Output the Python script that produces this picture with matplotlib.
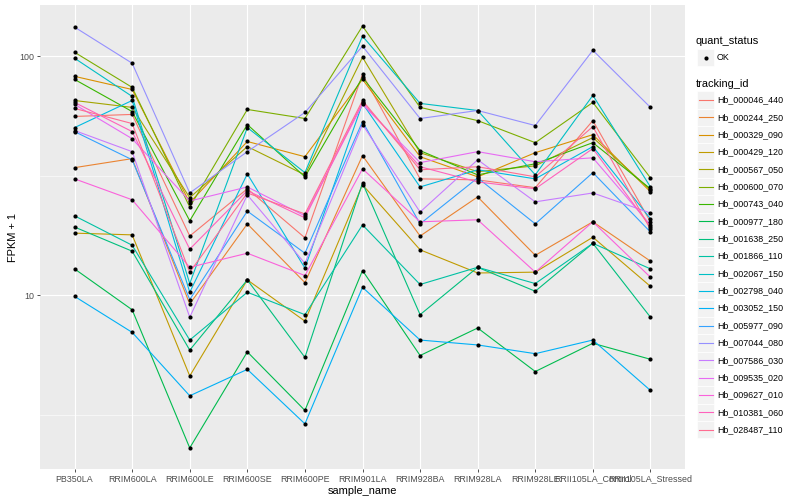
import numpy as np
import matplotlib
matplotlib.use("Agg")
import matplotlib.pyplot as plt
from matplotlib.patches import Rectangle
from matplotlib.lines import Line2D

plt.rcParams['font.family'] = ['Liberation Sans', 'DejaVu Sans']

samples = ["PB350LA", "RRIM600LA", "RRIM600LE", "RRIM600SE", "RRIM600PE", "RRIM901LA",
           "RRIM928BA", "RRIM928LA", "RRIM928LE", "RRII105LA_Control", "RRII105LA_Stressed"]

tracking_ids = ["Hb_000046_440", "Hb_000244_250", "Hb_000329_090", "Hb_000429_120",
                "Hb_000567_050", "Hb_000600_070", "Hb_000743_040", "Hb_000977_180",
                "Hb_001638_250", "Hb_001866_110", "Hb_002067_150", "Hb_002798_040",
                "Hb_003052_150", "Hb_005977_090", "Hb_007044_080", "Hb_007586_030",
                "Hb_009535_020", "Hb_009627_010", "Hb_010381_060", "Hb_028487_110"]

# ggplot default hue palette for 20 groups
colors = ["#F8766D", "#EA8331", "#D89000", "#C09B00", "#A3A500", "#7CAE00", "#39B600",
          "#00BB4E", "#00BF7D", "#00C1A3", "#00BFC4", "#00BAE0", "#00B0F6", "#35A2FF",
          "#9590FF", "#C77CFF", "#E76BF3", "#FA62DB", "#FF62BC", "#FF6C91"]

# FPKM + 1 per sample
hb_000046_440 = [56.0, 57.1, 17.7, 27.9, 17.4, 84.0, 30.7, 30.4, 28.2, 53.8, 20.3]
hb_000244_250 = [34.2, 37.3, 9.2, 19.9, 11.3, 38.4, 17.7, 25.8, 14.7, 20.3, 13.9]
hb_000329_090 = [82.4, 72.6, 24.4, 44.0, 38.0, 80.0, 38.0, 31.3, 39.5, 47.0, 27.1]
hb_000429_120 = [18.2, 17.9, 4.6, 11.6, 7.8, 29.0, 15.5, 12.4, 12.5, 17.5, 10.9]
hb_000567_050 = [65.3, 61.1, 25.6, 41.9, 31.9, 99.0, 39.5, 32.9, 34.8, 45.7, 27.6]
hb_000600_070 = [103.9, 74.1, 23.4, 59.9, 54.9, 133.7, 61.1, 53.8, 43.5, 64.1, 31.0]
hb_000743_040 = [80.0, 58.7, 20.5, 51.8, 31.3, 81.6, 40.3, 31.9, 35.5, 43.5, 27.9]
hb_000977_180 = [12.9, 8.7, 2.3, 5.8, 3.3, 12.7, 5.6, 7.3, 4.8, 6.3, 5.4]
hb_001638_250 = [19.3, 15.3, 5.9, 11.6, 5.5, 29.5, 8.3, 13.1, 10.4, 16.5, 8.1]
hb_001866_110 = [21.5, 16.2, 6.5, 10.3, 8.3, 19.7, 11.1, 13.1, 11.2, 16.5, 12.9]
hb_002067_150 = [98.1, 67.9, 11.2, 50.3, 32.6, 121.3, 63.5, 59.3, 31.9, 68.6, 28.4]
hb_002798_040 = [50.3, 65.3, 10.3, 32.2, 13.0, 63.5, 28.4, 33.5, 30.7, 41.9, 20.9]
hb_003052_150 = [9.9, 7.0, 3.8, 4.9, 2.9, 10.8, 6.5, 6.2, 5.7, 6.5, 4.0]
hb_005977_090 = [48.4, 36.9, 9.6, 22.5, 15.0, 53.3, 19.9, 31.0, 19.9, 32.6, 18.4]
hb_007044_080 = [132.4, 93.5, 26.8, 39.9, 58.2, 110.2, 54.9, 59.3, 51.3, 105.9, 61.1]
hb_007586_030 = [48.9, 39.9, 8.1, 26.3, 13.6, 51.8, 22.3, 36.9, 24.6, 26.8, 22.1]
hb_009535_020 = [62.9, 45.2, 24.8, 28.4, 21.5, 62.9, 35.9, 39.9, 36.2, 37.6, 19.7]
hb_009627_010 = [30.7, 25.1, 13.1, 15.0, 12.1, 33.8, 20.3, 20.7, 12.5, 20.3, 11.9]
hb_010381_060 = [64.1, 48.4, 15.6, 27.4, 21.1, 64.1, 34.5, 29.8, 27.9, 41.1, 19.3]
hb_028487_110 = [60.5, 52.3, 12.5, 26.8, 21.9, 65.3, 33.5, 34.5, 31.3, 50.8, 18.9]

series = [hb_000046_440, hb_000244_250, hb_000329_090, hb_000429_120, hb_000567_050,
          hb_000600_070, hb_000743_040, hb_000977_180, hb_001638_250, hb_001866_110,
          hb_002067_150, hb_002798_040, hb_003052_150, hb_005977_090, hb_007044_080,
          hb_007586_030, hb_009535_020, hb_009627_010, hb_010381_060, hb_028487_110]

W, H = 800, 500
fig = plt.figure(figsize=(8, 5), dpi=100)

def fx(px):
    return px / W

def fy(py):
    return 1 - py / H

# panel
left, right, top, bottom = 40, 685, 5, 469
ax = fig.add_axes([fx(left), fy(bottom), fx(right - left), (bottom - top) / H])
ax.set_facecolor("#EBEBEB")
for s in ax.spines.values():
    s.set_visible(False)

x = np.arange(len(samples))
for vals, c in zip(series, colors):
    ax.plot(x, vals, color=c, lw=0.8, zorder=3)
for vals in series:
    ax.plot(x, vals, 'o', color='black', ms=3.0, mew=0, zorder=4)

ax.set_yscale('log')
allv = np.log10(np.concatenate(series))
lo, hi = allv.min(), allv.max()
pad = 0.05 * (hi - lo)
ax.set_ylim(10 ** (lo - pad), 10 ** (hi + pad))
ax.set_xlim(-0.6, len(samples) - 0.4)

ax.set_yticks([10, 100])
ax.set_yticklabels(["10", "100"])
ax.yaxis.set_minor_locator(matplotlib.ticker.NullLocator())
ax.set_xticks(x)
ax.set_xticklabels(samples)

for v in [10, 100]:
    ax.axhline(v, color='white', lw=0.8, zorder=1)
for v in [10 ** 0.5, 10 ** 1.5]:
    ax.axhline(v, color='white', lw=0.4, zorder=1)
for xi in x:
    ax.axvline(xi, color='white', lw=0.8, zorder=1)

ax.tick_params(axis='both', length=2.5, width=0.6, color='#333333',
               labelsize=6.4, labelcolor='#4D4D4D', pad=1.5)
ax.set_xlabel("sample_name", fontsize=7.9, labelpad=1.5)
ax.set_ylabel("FPKM + 1", fontsize=7.9, labelpad=1)

# legend: quant_status
fig.text(fx(696), fy(41), "quant_status", fontsize=7.9, va='center', ha='left')
fig.patches.append(Rectangle((fx(697), fy(66)), fx(17), 17 / H, transform=fig.transFigure,
                             facecolor="#F2F2F2", edgecolor='white', lw=0.5))
fig.lines.append(Line2D([fx(705.5)], [fy(57.5)], marker='o', ms=3.0, color='black',
                        mew=0, transform=fig.transFigure))
fig.text(fx(717), fy(57.5), "OK", fontsize=6.4, va='center', ha='left')

# legend: tracking_id
fig.text(fx(696), fy(84), "tracking_id", fontsize=7.9, va='center', ha='left')
for i, (tid, c) in enumerate(zip(tracking_ids, colors)):
    cy = 100 + i * 17.35
    fig.patches.append(Rectangle((fx(697), fy(cy + 8.6)), fx(17), 17.3 / H,
                                 transform=fig.transFigure, facecolor="#F2F2F2",
                                 edgecolor='white', lw=0.5))
    fig.lines.append(Line2D([fx(698.5), fx(712.5)], [fy(cy), fy(cy)], color=c, lw=0.8,
                            transform=fig.transFigure))
    fig.text(fx(717), fy(cy), tid, fontsize=6.4, va='center', ha='left')

fig.savefig("out.png", dpi=100, facecolor='white')
